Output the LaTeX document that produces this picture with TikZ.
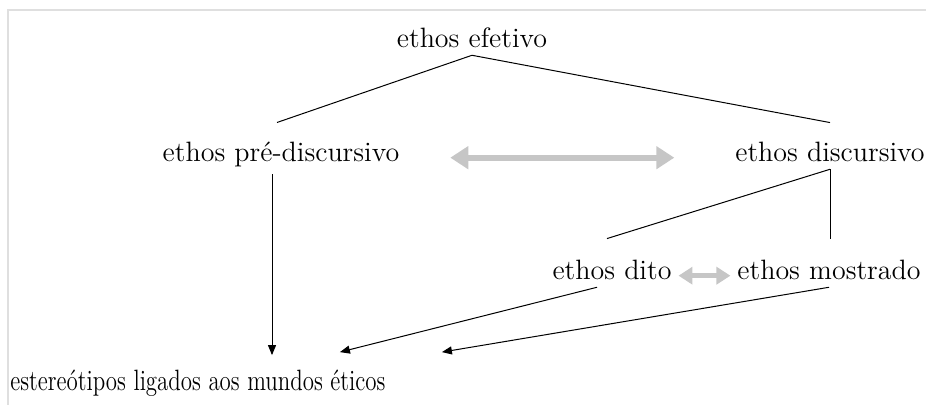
\documentclass[tikz,border=0pt]{standalone}
\usetikzlibrary{arrows.meta}
\begin{document}
\begin{tikzpicture}[x=0.5pt,y=-0.5pt]
  \tikzstyle{every node}+=[font=\fontsize{14}{17}\selectfont, inner sep=3.3pt]
  \tikzstyle{tie}=[black, line width=0.5pt]
  \tikzstyle{flow}=[black, line width=0.5pt, -{Triangle[length=5pt,width=4pt]}]
  \tikzstyle{bothbig}=[gray!45, line width=3pt, {Triangle[length=9pt,width=11pt]}-{Triangle[length=9pt,width=11pt]}]
  \tikzstyle{bothsmall}=[gray!45, line width=2.2pt, {Triangle[length=7pt,width=8.5pt]}-{Triangle[length=7pt,width=8.5pt]}]
  \useasboundingbox (0,0) rectangle (926,405);
  \draw [gray!25, line width=1pt] (8,405) -- (8,10) -- (926,10);
  \node [anchor=base] (efetivo) at (472,48) {ethos efetivo};
  \node [anchor=base] (pre) at (281,162) {ethos pré-discursivo};
  \node [anchor=base] (disc) at (830,162) {ethos discursivo};
  \node [anchor=base] (dito) at (612,280) {ethos dito};
  \node [anchor=base] (mostrado) at (829,280) {ethos mostrado};
  \node [anchor=base west, inner sep=0pt] (estereo) at (10,391) {\scalebox{0.78}[1]{\fontsize{14.7}{17}\selectfont estereótipos ligados aos mundos éticos}};
  \draw [tie] (efetivo.south) -- ([xshift=-2pt,yshift=6.5pt]pre.north);
  \draw [tie] (efetivo.south) -- ([yshift=6.5pt]disc.north);
  \draw [bothbig, shorten <=22pt, shorten >=27pt] (pre.mid east) -- (disc.mid west);
  \draw [tie] (disc.south) -- ([xshift=-2.5pt,yshift=7.5pt]dito.north);
  \draw [tie, shorten >=7.5pt] (disc.south) -- (disc.south |- mostrado.north);
  \draw [bothsmall] (dito.mid east) -- (mostrado.mid west);
  \draw [flow, shorten >=7.5pt] ([xshift=-4.5pt]pre.south) -- ([xshift=-4.5pt]pre.south |- estereo.north);
  \draw [flow] ([xshift=-7.5pt]dito.south) -- ([xshift=71pt,yshift=9pt]estereo.north);
  \draw [flow] (mostrado.south) -- ([xshift=122pt,yshift=9pt]estereo.north);
\end{tikzpicture}
\end{document}
